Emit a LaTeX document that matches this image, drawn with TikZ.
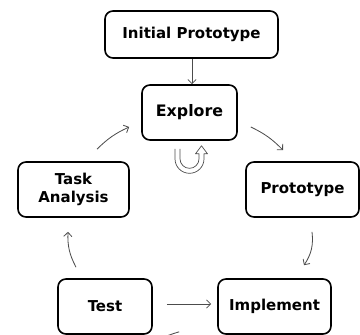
\documentclass[tikz,border=0pt]{standalone}
\usepackage{fontspec}
\setmainfont{DejaVu Sans}
\usetikzlibrary{positioning}
\usetikzlibrary{arrows.meta}

\begin{document}
\begin{tikzpicture}[
        >={Straight Barb[length=3.5pt,width=7pt]},
        boxnode/.style={rectangle, rounded corners=0.24cm, draw=black, line width=1.4pt, minimum height=1.65cm, align=center, font=\bfseries\fontsize{12.8}{15}\selectfont},
        flow/.style={->, draw=black!70, line width=0.7pt}
    ]
        \clip (0,0) rectangle (10.8,10.05);

        \node [boxnode, minimum width=5.19cm, minimum height=1.41cm] (Init) at (5.745,9.015) {Initial Prototype};
        \node [boxnode, minimum width=2.85cm, font=\bfseries\fontsize{13.5}{16}\selectfont] (Explore) at (5.685,6.675) {Explore};
        \node [boxnode, minimum width=3.33cm] (Task) at (2.205,4.365) {Task\\Analysis};
        \node [boxnode, minimum width=3.39cm] (Proto) at (9.075,4.365) {Prototype};
        \node [boxnode, minimum width=2.82cm] (Test) at (3.15,0.855) {Test};
        \node [boxnode, minimum width=3.39cm] (Impl) at (8.235,0.855) {Implement};

        \path (Init.south -| 5.76,0) edge [ flow ] (Explore.north -| 5.76,0) ;
        \path ([shift={(0.39,-0.435)}]Explore.east) edge [ flow, bend left=10 ] ([shift={(-0.585,0.33)}]Proto.north) ;
        \path ([shift={(0.285,-0.42)}]Proto.south) edge [ flow, bend left=20 ] ([shift={(0.885,0.39)}]Impl.north) ;
        \path ([shift={(0.42,0.075)}]Test.east) edge [ flow ] ([shift={(-0.18,0.075)}]Impl.west) ;
        \path ([shift={(-0.87,0.33)}]Test.north) edge [ flow, bend left=15 ] ([shift={(-0.165,-0.42)}]Task.south) ;
        \path ([shift={(0.705,0.36)}]Task.north) edge [ flow, bend left=10 ] ([shift={(-0.36,-0.435)}]Explore.west) ;
        \path ([shift={(-1.14,0.09)}]Impl.south west) edge [ flow, bend right=10 ] ([shift={(-0.36,-0.48)}]Test.south east) ;

        % turn back under Explore
        \begin{scope}[shift={(Explore.south)}, yshift=-0.54cm]
            \draw[draw=black!70, line width=0.6pt, line join=round]
                (-0.435,0.3) -- (-0.435,0) arc[start angle=180, end angle=360, radius=0.435]
                -- (0.435,0.15) -- (0.54,0.15) -- (0.36,0.39) -- (0.18,0.15) -- (0.285,0.15)
                -- (0.285,0) arc[start angle=0, end angle=-180, radius=0.285] -- (-0.285,0.3);
        \end{scope}

    \end{tikzpicture}
\end{document}
